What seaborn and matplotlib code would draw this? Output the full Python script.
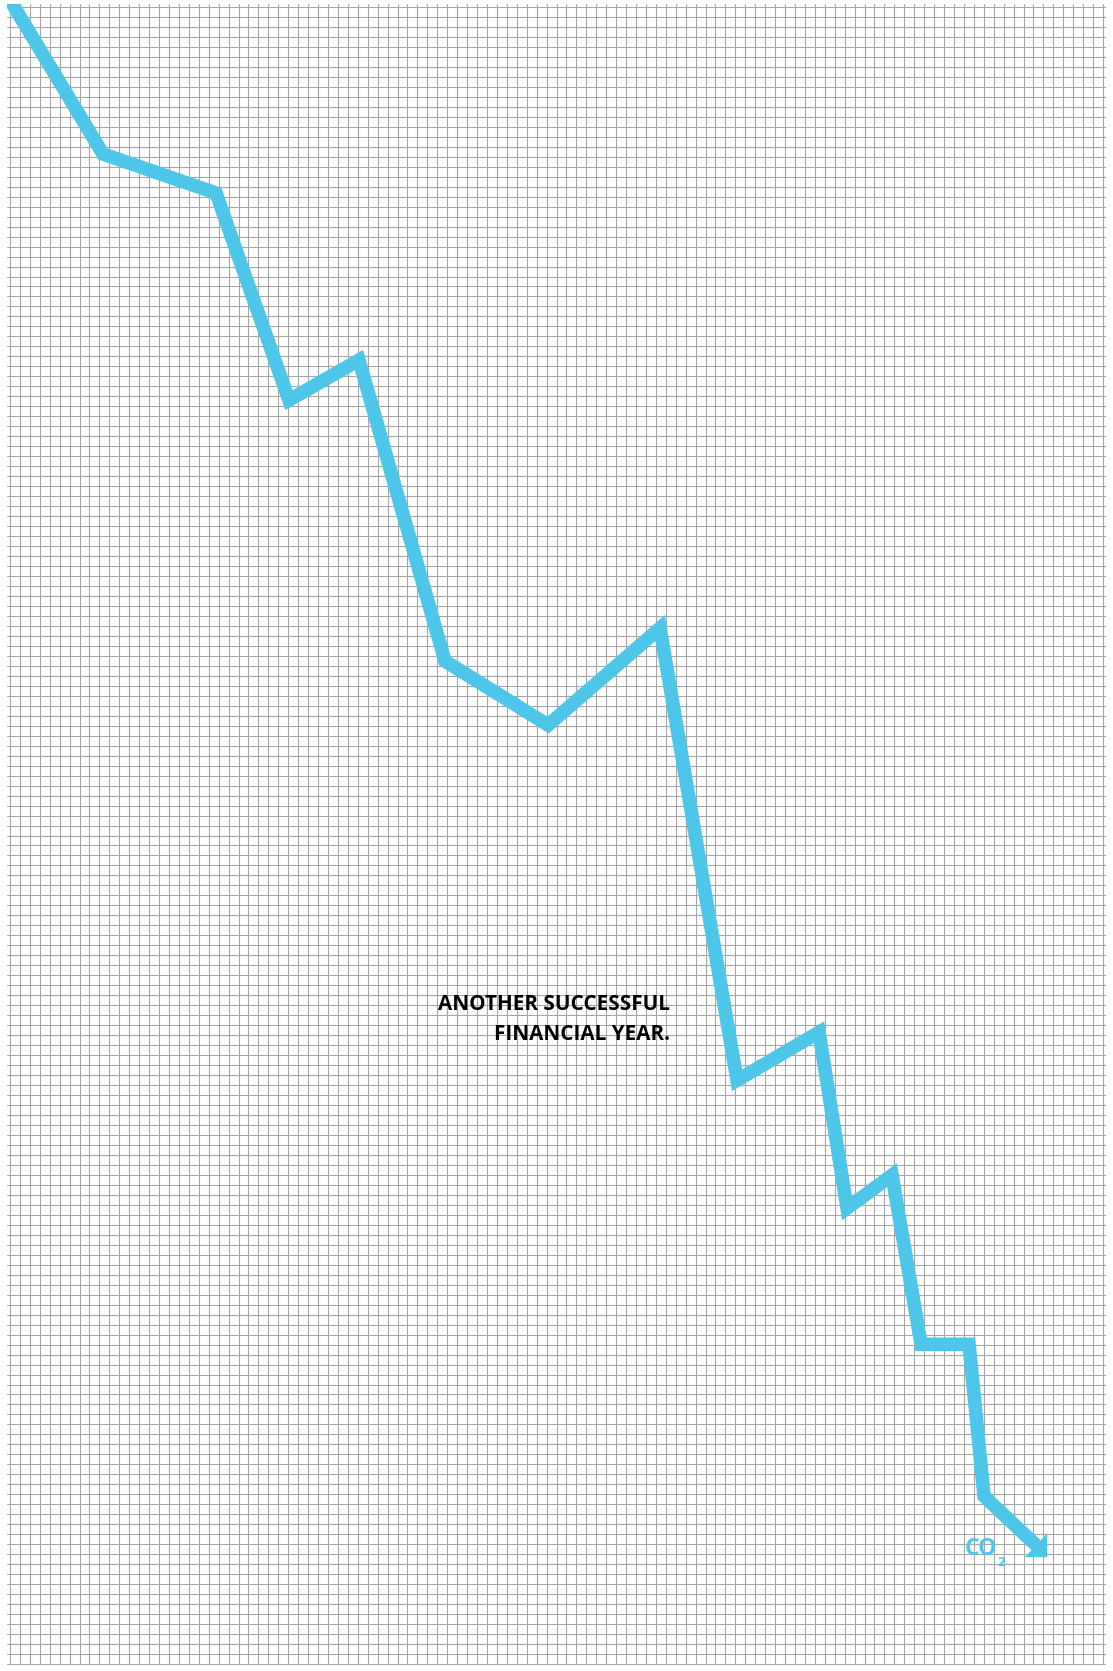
import numpy as np
import pandas as pd
import matplotlib
matplotlib.use("Agg")
import matplotlib.pyplot as plt
from matplotlib.patches import Polygon
import seaborn as sns

# ---- data (grid-cell units, y measured downward from the top of the grid) ----
step_x = [-0.3, 9.36, 20.73, 28.08, 35.12, 43.78, 54.15, 65.42, 73.17,
          81.42, 84.24, 88.77, 91.69, 96.52, 98.03, 103.26]
step_y = [-1.2, 14.73, 18.64, 39.38, 35.37, 65.53, 71.94, 62.22, 107.52,
          102.71, 120.34, 117.03, 133.97, 133.97, 149.2, 154.1]
headline_lines = ["ANOTHER SUCCESSFUL", "FINANCIAL YEAR."]
series_label = "CO"
series_sub = "2"

n_cols = 110
n_rows = 166

BLUE = "#4EC6EA"

sns.set_style("white")
plt.rcParams["font.family"] = ["Open Sans", "DejaVu Sans"]

W, H = 1113, 1671
fig = plt.figure(figsize=(W / 100, H / 100), dpi=100)
fig.patch.set_facecolor("white")

# grid spans pixels x 10..1103, y 7..1664 ; extend a little
px0, px1 = 10, 1103
py0, py1 = 7, 1664
sx = (px1 - px0) / n_cols
sy = (py1 - py0) / n_rows
xl0, xl1 = -0.3, n_cols + 0.35
yl0, yl1 = -0.3, n_rows + 0.15
left = (px0 + xl0 * sx) / W
right = (px0 + xl1 * sx) / W
top = (py0 + yl0 * sy)
bot = (py0 + yl1 * sy)
ax = fig.add_axes([left, 1 - bot / H, right - left, (bot - top) / H])
ax.set_xlim(xl0, xl1)
ax.set_ylim(yl1, yl0)

ax.set_xticks(np.arange(0, n_cols + 1))
ax.set_yticks(np.arange(0, n_rows + 1))
ax.tick_params(length=0, labelbottom=False, labelleft=False)
ax.grid(True, color="#a6a6a6", linewidth=0.8)
ax.set_axisbelow(True)
for s in ax.spines.values():
    s.set_visible(False)
ax.set_facecolor("white")

df = pd.DataFrame({"x": step_x, "y": step_y})
sns.lineplot(data=df, x="x", y="y", sort=False, estimator=None, ax=ax,
             color=BLUE, linewidth=9.8, solid_joinstyle="miter",
             solid_capstyle="butt", zorder=3)
ax.set_xlabel("")
ax.set_ylabel("")

# arrow head: right-angle triangle around the last point
ex, ey = step_x[-1], step_y[-1]
hx, hy = 1.12, 1.2
head = Polygon([[ex + hx, ey + hy], [ex + hx, ey - hy], [ex - hx, ey + hy]],
               closed=True, facecolor=BLUE, edgecolor="none", zorder=4)
ax.add_patch(head)

# headline text
ax.text(66.4, 100.5, headline_lines[0], ha="right", va="baseline",
        fontsize=14.9, fontweight="bold", color="black", zorder=5)
ax.text(66.4, 103.5, headline_lines[1], ha="right", va="baseline",
        fontsize=14.9, fontweight="bold", color="black", zorder=5)

# CO2 label
co = ax.text(96.1, 155.1, series_label, ha="left", va="baseline",
             fontsize=16.5, fontweight="bold", color=BLUE, zorder=5)
ax.annotate(series_sub, xy=(1.0, 0.0), xycoords=co,
            xytext=(0.5, -3.5), textcoords="offset points",
            ha="left", va="baseline", fontsize=9.5, fontweight="bold",
            color=BLUE, zorder=5)

fig.savefig("out.png", dpi=100, facecolor="white")
